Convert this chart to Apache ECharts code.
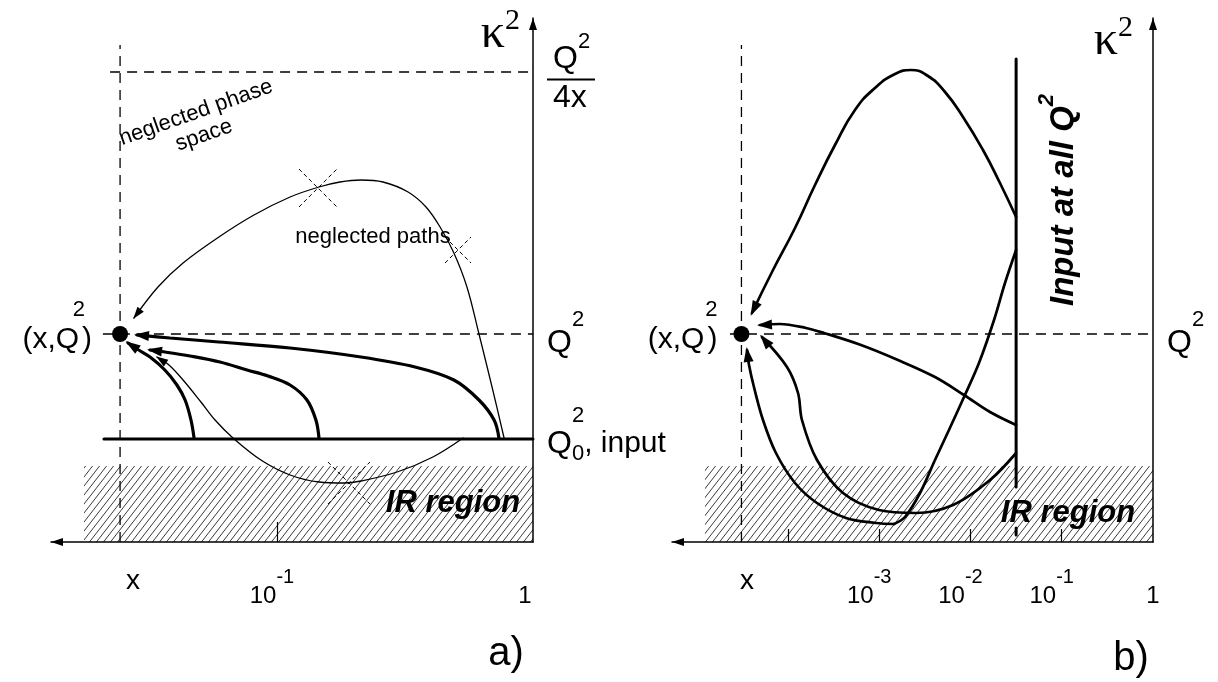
<!DOCTYPE html>
<html>
<head>
<meta charset="utf-8">
<script src="https://cdn.jsdelivr.net/npm/echarts@6/dist/echarts.min.js"></script>
<style>
  html, body { margin: 0; padding: 0; background: #fff; }
  #chart { width: 1218px; height: 682px; }
</style>
</head>
<body>
<div id="chart"></div>
<script>
// ---------------------------------------------------------------------------
// Values. Horizontal axes: log10(x). Vertical axes: log-like kappa^2 scale.
// ---------------------------------------------------------------------------

// panel a) evolution starting from an input line
const A_XS = -1.613;            // the small x of the probe point
const A_Q2 = 2.08;              // Q^2
const A_Q02 = 1.03;             // Q0^2 input scale
const A_Q2_4X = 4.70;           // Q^2 / 4x kinematic limit
const A_TICK_MARKS = [-1];      // decade tick marks
const A_TICK_LABELS = [-1, 0];  // exponents of the labelled decades

// panel b) input at all Q^2 along a fixed x
const B_XS = -4.51;
const B_Q2 = 2.08;
const B_INPUT_X = -1.5;
const B_INPUT_Y = [0.55, 4.83];
const B_INPUT_STUB_Y = [0.07, 0.14];
const B_TICK_MARKS = [-4, -3, -2, -1];
const B_TICK_LABELS = [-3, -2, -1, 0];

const IR_TOP = 0.76;            // upper edge of the infrared region

// evolution paths, panel a
const A_THICK1_X = [-1.324, -1.336, -1.359, -1.391, -1.438, -1.496, -1.547, -1.582];
const A_THICK1_Y = [1.04, 1.22, 1.42, 1.57, 1.72, 1.85, 1.93, 1.99];
const A_THICK2_X = [-0.836, -0.848, -0.883, -0.949, -1.035, -1.117, -1.223, -1.340, -1.438, -1.496];
const A_THICK2_Y = [1.04, 1.22, 1.42, 1.57, 1.66, 1.72, 1.80, 1.86, 1.90, 1.92];
const A_THICK3_X = [-0.133, -0.152, -0.211, -0.309, -0.461, -0.672, -0.949, -1.227, -1.418, -1.547];
const A_THICK3_Y = [1.04, 1.22, 1.42, 1.62, 1.75, 1.85, 1.94, 2.00, 2.04, 2.07];
const A_HIGH_X = [-0.113, -0.160, -0.211, -0.258, -0.309, -0.363, -0.418, -0.488, -0.586, -0.672,
                  -0.754, -0.836, -0.949, -1.090, -1.227, -1.367, -1.465, -1.559];
const A_HIGH_Y = [1.04, 1.55, 2.08, 2.55, 2.89, 3.15, 3.35, 3.50, 3.60, 3.62,
                  3.60, 3.55, 3.45, 3.27, 3.05, 2.79, 2.55, 2.24];
const A_LOW_X = [-0.273, -0.391, -0.531, -0.672, -0.738, -0.836, -0.949, -1.063, -1.172, -1.242,
                 -1.297, -1.367, -1.422, -1.469];
const A_LOW_Y = [1.04, 0.85, 0.70, 0.61, 0.59, 0.60, 0.67, 0.82, 1.04, 1.22,
                 1.40, 1.62, 1.77, 1.85];
// cut (crossed-out) points on the neglected paths
const A_CUTS_X = [-0.840, -0.293, -0.719];
const A_CUTS_Y = [3.54, 2.92, 0.59];

// evolution paths, panel b
const B_TOP_X = [-1.5, -1.677, -1.863, -2.082, -2.279, -2.466, -2.652, -2.827, -3.047, -3.266,
                 -3.485, -3.704, -3.923, -4.164, -4.395];
const B_TOP_Y = [3.25, 3.59, 3.92, 4.25, 4.50, 4.66, 4.72, 4.68, 4.54, 4.32,
                 3.97, 3.57, 3.14, 2.72, 2.29];
const B_DIP_DOWN_X = [-1.5, -1.622, -1.742, -1.907, -2.071, -2.236, -2.389, -2.553, -2.718, -2.838];
const B_DIP_DOWN_Y = [2.92, 2.59, 2.22, 1.79, 1.45, 1.12, 0.82, 0.49, 0.25, 0.18];
const B_DIP_UP_X = [-2.838, -3.036, -3.364, -3.682, -3.923, -4.132, -4.274, -4.373, -4.427, -4.449];
const B_DIP_UP_Y = [0.18, 0.19, 0.24, 0.39, 0.59, 0.89, 1.22, 1.55, 1.77, 1.92];
const B_MID_X = [-1.5, -1.786, -2.071, -2.389, -2.795, -3.200, -3.605, -3.803, -4.088, -4.307];
const B_MID_Y = [1.17, 1.30, 1.47, 1.65, 1.82, 1.97, 2.09, 2.14, 2.18, 2.17];
const B_LOW_X = [-1.5, -1.786, -2.192, -2.597, -3.003, -3.397, -3.682, -3.847, -3.890, -4.011, -4.285];
const B_LOW_Y = [0.89, 0.62, 0.37, 0.29, 0.32, 0.49, 0.82, 1.22, 1.49, 1.75, 2.05];

// ---------------------------------------------------------------------------
// Layout and styles
// ---------------------------------------------------------------------------
const SANS = '"Liberation Sans", Arial, Helvetica, sans-serif';
const SERIF = '"Liberation Serif", "Times New Roman", serif';
const INK = '#000';
const A_XMIN = -1.8828, B_XMIN = -5.271, Y_MAX = 5.24;
const DASH = [10, 7];
const CUT_HALF = [19, 13, 21];

function rs(size, extra) {
  return Object.assign({ fontFamily: SANS, fontSize: size, color: INK }, extra || {});
}
function pairs(xs, ys) { return xs.map((x, i) => [x, ys[i]]); }

function hatchPattern() {
  const w = 7, h = 9;
  const c = document.createElement('canvas');
  c.width = w; c.height = h;
  const g = c.getContext('2d');
  g.strokeStyle = '#262626';
  g.lineWidth = 0.9;
  [-w, 0, w].forEach(off => {
    g.beginPath();
    g.moveTo(off - 0.3 * w, h + 0.3 * h);
    g.lineTo(off + 1.3 * w, -0.3 * h);
    g.stroke();
  });
  return c;
}
const HATCH = { image: hatchPattern(), repeat: 'repeat' };

function curve(gi, xs, ys, width, extra) {
  return Object.assign({
    type: 'line', xAxisIndex: gi, yAxisIndex: gi,
    data: pairs(xs, ys), smooth: 0.35, symbol: 'none', silent: true,
    lineStyle: { color: INK, width: width, cap: 'round' }, z: 3
  }, extra || {});
}
function dashed(gi, xs, ys) {
  return {
    type: 'line', xAxisIndex: gi, yAxisIndex: gi, data: pairs(xs, ys),
    symbol: 'none', silent: true, lineStyle: { color: INK, width: 1.3, type: DASH }, z: 2
  };
}
// filled arrow heads at the end of each path, oriented along the last segment
function arrowHeads(gi, paths, len, wid, ext) {
  return {
    type: 'custom', xAxisIndex: gi, yAxisIndex: gi, silent: true, z: 4, clip: false,
    data: paths.map(p => {
      const n = p[0].length;
      return [p[0][n - 1], p[1][n - 1], p[0][n - 2], p[1][n - 2]];
    }),
    renderItem: (params, api) => {
      const t = api.coord([api.value(0), api.value(1)]);
      const q = api.coord([api.value(2), api.value(3)]);
      const dx = t[0] - q[0], dy = t[1] - q[1], d = Math.hypot(dx, dy) || 1;
      const ux = dx / d, uy = dy / d;
      const tip = [t[0] + ux * ext, t[1] + uy * ext];
      const bx = tip[0] - ux * len, by = tip[1] - uy * len;
      return {
        type: 'polygon',
        shape: { points: [tip, [bx - uy * wid / 2, by + ux * wid / 2], [bx + uy * wid / 2, by - ux * wid / 2]] },
        style: { fill: INK }
      };
    }
  };
}
function irRegion(gi, xmin) {
  return {
    type: 'custom', xAxisIndex: gi, yAxisIndex: gi, silent: true, z: 1,
    data: [[xmin, 0, 0, IR_TOP]],
    renderItem: (params, api) => {
      const p0 = api.coord([api.value(0), api.value(3)]);
      const p1 = api.coord([api.value(1), api.value(2)]);
      return { type: 'rect', shape: { x: p0[0], y: p0[1], width: p1[0] - p0[0], height: p1[1] - p0[1] },
               style: { fill: HATCH } };
    }
  };
}
function probePoint(gi, x, y, dist, expPad) {
  return {
    type: 'scatter', xAxisIndex: gi, yAxisIndex: gi, data: [[x, y]], symbolSize: 16,
    itemStyle: { color: INK, opacity: 1 }, silent: true, z: 6,
    label: {
      show: true, position: 'left', distance: dist, color: INK, opacity: 1,
      formatter: '{e|2}\n{m|(x,Q}{g|}{m|)}',
      rich: {
        e: rs(22, { verticalAlign: 'top', lineHeight: 11, padding: [0, expPad, 0, 0] }),
        m: rs(30, { verticalAlign: 'middle', lineHeight: 59 }),
        g: { width: 3, height: 1, lineHeight: 59 }
      }
    }
  };
}
function xAxisFor(gi, min, marks, labels, xs, tickLen, xPad, onePad, shift) {
  return {
    gridIndex: gi, type: 'value', min: min, max: 0, z: 5,
    axisLine: { show: true, onZero: false, lineStyle: { color: INK, width: 1.5 },
                symbol: ['triangle', 'none'], symbolSize: [8, 12], symbolOffset: [6, 0] },
    axisTick: { show: true, inside: true, length: tickLen, customValues: marks,
                lineStyle: { color: INK, width: 1.2 } },
    splitLine: { show: false },
    axisLabel: {
      show: true, margin: 25, lineHeight: 41, color: INK,
      customValues: [xs].concat(labels),
      formatter: v => {
        if (Math.abs(v - xs) < 1e-9) return '{v|x}';
        if (v === 0) return '{one|1}';
        return '{b|10}{e|' + v + '}';
      },
      rich: {
        b: rs(24, { verticalAlign: 'bottom', lineHeight: 41 }),
        one: rs(24, { verticalAlign: 'bottom', lineHeight: 41, padding: [0, onePad, 0, 0] }),
        e: rs(20, { verticalAlign: 'top', lineHeight: 41, padding: [0, shift, 0, 0] }),
        v: rs(28, { verticalAlign: 'top', lineHeight: 41, padding: [0, 0, 0, xPad] })
      }
    }
  };
}
const Y_RICH = {
  q: rs(32, { verticalAlign: 'bottom', lineHeight: 51 }),
  qe: rs(22, { verticalAlign: 'top', lineHeight: 51 }),
  fq: rs(32, { verticalAlign: 'bottom', lineHeight: 45, padding: [0, 0, 0, 6] }),
  fe: rs(22, { verticalAlign: 'top', lineHeight: 45 }),
  bar: { width: 48, height: 2, backgroundColor: INK, lineHeight: 8, verticalAlign: 'middle' },
  fd: rs(32, { verticalAlign: 'middle', lineHeight: 30, padding: [0, 0, 0, 6] }),
  sp: { width: 25, height: 1, lineHeight: 18 },
  se: rs(22, { verticalAlign: 'top', lineHeight: 18 }),
  q0: rs(32, { verticalAlign: 'middle', lineHeight: 42 }),
  sub: rs(22, { verticalAlign: 'bottom', lineHeight: 42 }),
  inp: rs(30, { verticalAlign: 'middle', lineHeight: 42 }),
  gap: { width: 1, height: 1, lineHeight: 8 }
};
function yLabel(v) {
  if (Math.abs(v - A_Q2_4X) < 1e-9) return '{fq|Q}{fe|2}\n{bar|}\n{fd|4x}';
  if (Math.abs(v - A_Q02) < 1e-9) return '{sp|}{se|2}\n{q0|Q}{sub|0}{inp|, input}\n{gap|}';
  return '{q|Q}{qe|2}';
}
function yAxisFor(gi, values, nameGap, namePad) {
  return {
    gridIndex: gi, type: 'value', min: 0, max: Y_MAX, position: 'right', z: 5,
    axisLine: { show: true, onZero: false, lineStyle: { color: INK, width: 1.5 },
                symbol: ['none', 'triangle'], symbolSize: [8, 12], symbolOffset: [0, -6] },
    axisTick: { show: false }, splitLine: { show: false },
    axisLabel: { show: true, margin: 14, color: INK, customValues: values, formatter: yLabel, rich: Y_RICH },
    name: '{k|κ}{s|2}', nameLocation: 'end', nameGap: nameGap,
    nameTextStyle: {
      align: 'right', verticalAlign: 'middle', padding: [0, namePad, 0, 0],
      rich: {
        k: { fontFamily: SERIF, fontSize: 48, color: INK, verticalAlign: 'bottom', lineHeight: 52 },
        s: { fontFamily: SERIF, fontSize: 30, color: INK, verticalAlign: 'top', lineHeight: 52 }
      }
    }
  };
}
function note(text, x, y, font, rot, lh) {
  return {
    type: 'text', x: x, y: y, rotation: rot || 0, z: 10, silent: true,
    style: { text: text, font: font, fill: INK, align: 'center', verticalAlign: 'middle',
             textAlign: 'center', textVerticalAlign: 'middle', lineHeight: lh || 24 }
  };
}
function cutMarks(gi, xs, ys) {
  return {
    type: 'custom', xAxisIndex: gi, yAxisIndex: gi, silent: true, z: 4,
    data: pairs(xs, ys),
    renderItem: (params, api) => {
      const c = api.coord([api.value(0), api.value(1)]);
      const s = CUT_HALF[params.dataIndex];
      const st = { stroke: INK, lineWidth: 1, lineDash: [4, 3] };
      return { type: 'group', children: [
        { type: 'line', shape: { x1: c[0] - s, y1: c[1] - s, x2: c[0] + s, y2: c[1] + s }, style: st },
        { type: 'line', shape: { x1: c[0] - s, y1: c[1] + s, x2: c[0] + s, y2: c[1] - s }, style: st }
      ] };
    }
  };
}

const BOLD_IT = 'italic bold 31px ' + SANS;

const option = {
  backgroundColor: '#fff',
  animation: false,
  textStyle: { fontFamily: SANS, color: INK },
  grid: [
    { left: 51, top: 18, width: 482, height: 524, outerBoundsMode: 'none' },
    { left: 672, top: 18, width: 481, height: 524, outerBoundsMode: 'none' }
  ],
  xAxis: [
    xAxisFor(0, A_XMIN, A_TICK_MARKS, A_TICK_LABELS, A_XS, 20, 26, 16, 10),
    xAxisFor(1, B_XMIN, B_TICK_MARKS, B_TICK_LABELS, B_XS, 13, 11, 0, 20)
  ],
  yAxis: [
    yAxisFor(0, [A_Q02, A_Q2, A_Q2_4X], -14.5, 13),
    yAxisFor(1, [B_Q2], -21.5, 20)
  ],
  graphic: [
    note('neglected phase\nspace', 200, 124, '22px ' + SANS, 0.34, 24),
    note('neglected paths', 373, 237, '22px ' + SANS),
    note('IR region', 453, 503, BOLD_IT),
    note('IR region', 1068, 513, BOLD_IT),
    note('a)', 506, 654, '40px ' + SANS),
    note('b)', 1131, 659, '40px ' + SANS),
    {
      type: 'text', x: 1058, y: 200, rotation: Math.PI / 2, z: 10, silent: true,
      style: {
        text: '{i|Input at all Q}{ie|2}', align: 'center', verticalAlign: 'middle',
        textAlign: 'center', textVerticalAlign: 'middle',
        rich: {
          i: { font: 'italic bold 33px ' + SANS, fontFamily: SANS, fontSize: 33, fontWeight: 'bold',
               fontStyle: 'italic', fill: INK, verticalAlign: 'bottom', lineHeight: 44 },
          ie: { font: 'italic bold 22px ' + SANS, fontFamily: SANS, fontSize: 22, fontWeight: 'bold',
                fontStyle: 'italic', fill: INK, verticalAlign: 'top', lineHeight: 44 }
        }
      }
    }
  ],
  series: [
    // panel a
    irRegion(0, -1.754),
    dashed(0, [A_XS, A_XS], [0, 4.97]),
    dashed(0, [-1.652, 0], [A_Q2_4X, A_Q2_4X]),
    dashed(0, [-1.68, 0], [A_Q2, A_Q2]),
    curve(0, [-1.676, 0], [A_Q02, A_Q02], 3, { smooth: false }),
    curve(0, A_THICK1_X, A_THICK1_Y, 3.2),
    curve(0, A_THICK2_X, A_THICK2_Y, 3.2),
    curve(0, A_THICK3_X, A_THICK3_Y, 3.2),
    curve(0, A_HIGH_X, A_HIGH_Y, 1.3),
    curve(0, A_LOW_X, A_LOW_Y, 1.3),
    cutMarks(0, A_CUTS_X, A_CUTS_Y),
    arrowHeads(0, [[A_THICK1_X, A_THICK1_Y], [A_THICK2_X, A_THICK2_Y], [A_THICK3_X, A_THICK3_Y]], 15, 10, 3),
    arrowHeads(0, [[A_HIGH_X, A_HIGH_Y], [A_LOW_X, A_LOW_Y]], 12, 8, 1),
    probePoint(0, A_XS, A_Q2, 20, 7),
    // panel b
    irRegion(1, -4.91),
    dashed(1, [B_XS, B_XS], [0, 4.97]),
    dashed(1, [-4.636, 0], [B_Q2, B_Q2]),
    curve(1, [B_INPUT_X, B_INPUT_X], B_INPUT_Y, 3, { smooth: false }),
    curve(1, [B_INPUT_X, B_INPUT_X], B_INPUT_STUB_Y, 3, { smooth: false }),
    curve(1, B_TOP_X, B_TOP_Y, 2.7, { smooth: 0.5 }),
    curve(1, B_DIP_DOWN_X, B_DIP_DOWN_Y, 2.7),
    curve(1, B_DIP_UP_X, B_DIP_UP_Y, 2.7),
    curve(1, B_MID_X, B_MID_Y, 2.7),
    curve(1, B_LOW_X, B_LOW_Y, 2.7),
    arrowHeads(1, [[B_TOP_X, B_TOP_Y], [B_DIP_UP_X, B_DIP_UP_Y], [B_MID_X, B_MID_Y], [B_LOW_X, B_LOW_Y]], 15, 10, 3),
    probePoint(1, B_XS, B_Q2, 16, 0)
  ]
};

const chart = echarts.init(document.getElementById('chart'), null, { renderer: 'canvas' });
chart.setOption(option);
</script>
</body>
</html>
